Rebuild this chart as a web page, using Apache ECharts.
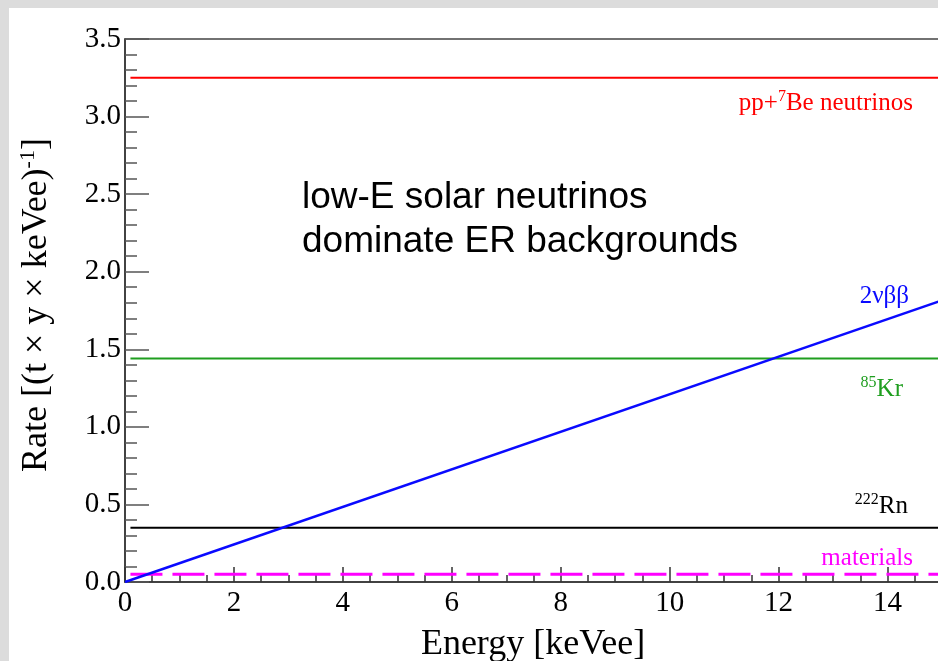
<!DOCTYPE html>
<html>
<head>
<meta charset="utf-8">
<script src="https://cdn.jsdelivr.net/npm/echarts@6/dist/echarts.min.js"></script>
<style>
  html, body { margin: 0; padding: 0; width: 938px; height: 661px; overflow: hidden; background: #dcdcdc; }
  #chart { position: absolute; left: 9px; top: 8px; width: 934px; height: 653px; background: #fff; }
</style>
</head>
<body>
<div id="chart"></div>
<script>
// Energy span of the flat background components [keVee]
const flatEnergy = [0.1, 15];
// Flat rates [(t x y x keVee)^-1]
const ppBe7Rate = 3.25;
const kr85Rate = 1.44;
const rn222Rate = 0.35;
const materialsRate = 0.05;
// Double-beta spectrum (linear rise)
const twoNuEnergy = [0, 15];
const twoNuRate = [0, 1.815];
// Axis ranges
const xRange = [0, 15];
const yRange = [0, 3.5];

const serif = '"Liberation Serif", "DejaVu Serif", serif';
const sans = '"Liberation Sans", Arial, sans-serif';

function flat(rate) {
  return flatEnergy.map(e => [e, rate]);
}

const chart = echarts.init(document.getElementById('chart'), null, { renderer: 'canvas' });

function label(text, rich, right, y, color) {
  return {
    type: 'text',
    x: right,
    y: y,
    silent: true,
    style: {
      text: text,
      align: 'right',
      verticalAlign: 'middle',
      fill: color,
      fontFamily: serif,
      fontSize: 25,
      rich: rich
    }
  };
}

function supRich(color) {
  return {
    n: { fontSize: 25, fontFamily: serif, color: color, lineHeight: 27, verticalAlign: 'bottom' },
    s: { fontSize: 16, fontFamily: serif, color: color, lineHeight: 16, verticalAlign: 'top' }
  };
}

chart.setOption({
  animation: false,
  backgroundColor: '#fff',
  grid: {
    left: 116, top: 31, right: 1, bottom: 79,
    show: true, borderColor: '#444', borderWidth: 1.5, backgroundColor: 'transparent',
    containLabel: false, outerBoundsMode: 'none'
  },
  xAxis: [
    {
      type: 'value', min: xRange[0], max: xRange[1], interval: 2, position: 'bottom',
      axisLine: { show: true, lineStyle: { color: '#333', width: 1.5 } },
      axisTick: { show: true, inside: true, length: 15, lineStyle: { color: '#333', width: 1.5 } },
      axisLabel: { fontFamily: serif, fontSize: 29, color: '#000', margin: 7, showMaxLabel: false },
      splitLine: { show: false }
    },
    {
      type: 'value', min: xRange[0], max: xRange[1], interval: 0.5, position: 'bottom',
      axisLine: { show: false },
      axisTick: { show: true, inside: true, length: 7, lineStyle: { color: '#333', width: 1.5 } },
      axisLabel: { show: false },
      splitLine: { show: false }
    }
  ],
  yAxis: {
    type: 'value', min: yRange[0], max: yRange[1], interval: 0.5,
    axisLine: { show: true, lineStyle: { color: '#333', width: 1.5 } },
    axisTick: { show: true, inside: true, length: 24, lineStyle: { color: '#555', width: 1.5 } },
    minorTick: { show: true, splitNumber: 5, length: 12, lineStyle: { color: '#555', width: 1.5 } },
    axisLabel: { fontFamily: serif, fontSize: 29, color: '#000', margin: 4, formatter: v => v.toFixed(1) },
    splitLine: { show: false }
  },
  series: [
    { name: 'pp+7Be neutrinos', type: 'line', data: flat(ppBe7Rate), symbol: 'none',
      lineStyle: { color: '#ff0000', width: 2 } },
    { name: '85Kr', type: 'line', data: flat(kr85Rate), symbol: 'none',
      lineStyle: { color: '#1f9e1f', width: 2 } },
    { name: '222Rn', type: 'line', data: flat(rn222Rate), symbol: 'none',
      lineStyle: { color: '#000000', width: 2 } },
    { name: 'materials', type: 'line', data: flat(materialsRate), symbol: 'none',
      lineStyle: { color: '#ff00ff', width: 3, type: [32, 10] } },
    { name: '2vbb', type: 'line', data: twoNuEnergy.map((e, i) => [e, twoNuRate[i]]), symbol: 'none',
      lineStyle: { color: '#0a0aff', width: 2.5 } }
  ],
  graphic: [
    label('{n|pp+}{s|7}{n|Be neutrinos}', supRich('#ff0000'), 904, 94, '#ff0000'),
    label('{n|2νββ}', supRich('#0a0aff'), 900, 287, '#0a0aff'),
    label('{s|85}{n|Kr}', supRich('#1f9e1f'), 894, 380, '#1f9e1f'),
    label('{s|222}{n|Rn}', supRich('#000000'), 899, 497, '#000000'),
    label('{n|materials}', supRich('#ff00ff'), 904, 549, '#ff00ff'),
    {
      type: 'text', x: 293, y: 190, silent: true,
      style: { text: 'low-E solar neutrinos', fontFamily: sans, fontSize: 37, fill: '#000', align: 'left', verticalAlign: 'middle' }
    },
    {
      type: 'text', x: 293, y: 234, silent: true,
      style: { text: 'dominate ER backgrounds', fontFamily: sans, fontSize: 37, fill: '#000', align: 'left', verticalAlign: 'middle' }
    },
    {
      type: 'text', x: 524, y: 637, silent: true,
      style: { text: 'Energy [keVee]', fontFamily: serif, fontSize: 36, fill: '#000', align: 'center', verticalAlign: 'middle' }
    },
    {
      type: 'text', x: 27, y: 297, rotation: Math.PI / 2, silent: true,
      style: {
        text: '{n|Rate [(t × y × keVee)}{s|-1}{n|]}',
        align: 'center', verticalAlign: 'middle',
        rich: {
          n: { fontSize: 36, fontFamily: serif, color: '#000', lineHeight: 38, verticalAlign: 'bottom' },
          s: { fontSize: 22, fontFamily: serif, color: '#000', lineHeight: 22, verticalAlign: 'top' }
        }
      }
    }
  ]
});
</script>
</body>
</html>
